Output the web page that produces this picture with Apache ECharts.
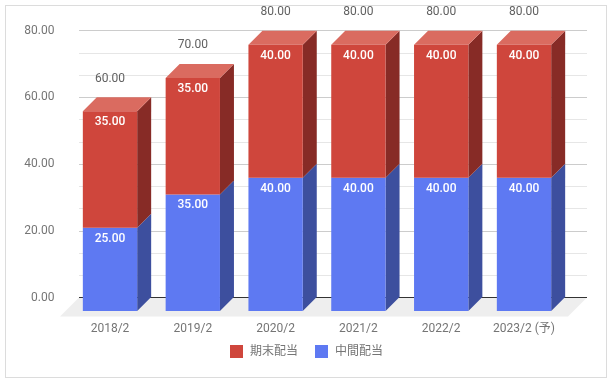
<!DOCTYPE html>
<html><head><meta charset="utf-8">
<style>
html,body{margin:0;padding:0;background:#fff;}
#frame{position:absolute;left:5px;top:5px;width:602px;height:373px;border:1.5px solid #dcdcdc;box-sizing:border-box;}
#c{position:absolute;left:0;top:0;width:614px;height:384px;}
</style>
<script src="https://cdn.jsdelivr.net/npm/echarts@6/dist/echarts.min.js"></script>
</head><body>
<div id="frame"></div><div id="c"></div>
<script>
const categories = ['2018/2','2019/2','2020/2','2021/2','2022/2','2023/2 (予)'];
const interim = [25,35,40,40,40,40];
const yearEnd = [35,35,40,40,40,40];
const totals = [60,70,80,80,80,80];
const yTicks = [0,20,40,60,80];

const FONT = 'Roboto, "Noto Sans CJK JP", sans-serif';
const DEPTH = 14, FLOOR_OUT = 19;
const fmt = v => Number(v).toFixed(2);
const colors = {
  blue:{front:'#5e79f2',side:'#3d4f9e',top:'#7e94f5'},
  red:{front:'#cf463c',side:'#872b26',top:'#da6b60'}
};

function box(c, showTop){
  return function(params, api){
    const i = api.value(0), base = api.value(1), val = api.value(2);
    const w = api.size([1,0])[0]*0.656;
    const cx = api.coord([i,0])[0];
    const y0 = api.coord([i,base])[1], y1 = api.coord([i,base+val])[1];
    const l = cx-w/2, r = cx+w/2;
    const kids = [
      {type:'polygon',shape:{points:[[r,y0],[r+DEPTH,y0-DEPTH],[r+DEPTH,y1-DEPTH],[r,y1]]},style:{fill:c.side}},
      {type:'rect',shape:{x:l,y:y1,width:w,height:y0-y1},style:{fill:c.front}},
      {type:'text',style:{text:fmt(val),x:cx,y:y1+11,align:'center',verticalAlign:'middle',fill:'#fff',
        font:'500 12px '+FONT}}
    ];
    if(showTop) kids.splice(1,0,{type:'polygon',shape:{points:[[l,y1],[l+DEPTH,y1-DEPTH],[r+DEPTH,y1-DEPTH],[r,y1]]},style:{fill:c.top}});
    return {type:'group',children:kids};
  };
}

const option = {
  animation:false,
  textStyle:{fontFamily:FONT},
  legend:{
    data:['期末配当','中間配当'],left:225,top:340,itemWidth:13,itemHeight:13,itemGap:17,icon:'rect',
    textStyle:{color:'#757575',fontSize:12,fontFamily:FONT,padding:[0,0,0,2]},selectedMode:false
  },
  grid:[
    {left:79,right:27,top:30.5,bottom:86.5},
    {left:68.6,right:48.6,top:44.7,bottom:73}
  ],
  xAxis:[
    {gridIndex:0,type:'category',data:categories,axisLine:{show:false},axisTick:{show:false},axisLabel:{show:false}},
    {gridIndex:1,type:'category',data:categories,axisLine:{show:false},axisTick:{show:false},
     axisLabel:{color:'#757575',fontSize:12,margin:12,fontFamily:FONT,interval:0}}
  ],
  yAxis:[
    {gridIndex:0,type:'value',min:yTicks[0],max:yTicks[yTicks.length-1],interval:20,
     axisLine:{show:false},axisTick:{show:false},
     axisLabel:{color:'#757575',fontSize:12,margin:24.5,fontFamily:FONT,formatter:fmt},
     splitLine:{lineStyle:{color:'#cccccc',width:1}},
     minorTick:{show:false,splitNumber:3},
     minorSplitLine:{show:true,lineStyle:{color:'#e6e6e6',width:1}}},
    {gridIndex:1,type:'value',min:0,max:80,interval:20,axisLine:{show:false},axisTick:{show:false},
     axisLabel:{show:false},splitLine:{show:false}}
  ],
  series:[
    {type:'custom',name:'床',xAxisIndex:0,yAxisIndex:0,data:[[0,0]],z:1,silent:true,clip:false,
     renderItem:function(params,api){
       const g = params.coordSys, yb = api.coord([0,0])[1];
       const xl=g.x, xr=g.x+g.width;
       return {type:'group',children:[
         {type:'polygon',shape:{points:[[xl,yb],[xr,yb],[xr-FLOOR_OUT,yb+FLOOR_OUT],[xl-FLOOR_OUT,yb+FLOOR_OUT]]},style:{fill:'#eeeeee'}},
         {type:'line',shape:{x1:xl,y1:yb,x2:xr,y2:yb},style:{stroke:'#333333',lineWidth:1}}
       ]};
     }},
    {type:'custom',name:'中間配当',xAxisIndex:1,yAxisIndex:1,z:3,clip:false,silent:true,
     itemStyle:{color:colors.blue.front},
     data:interim.map((v,i)=>[i,0,v]),renderItem:box(colors.blue,false)},
    {type:'custom',name:'期末配当',xAxisIndex:1,yAxisIndex:1,z:4,clip:false,silent:true,
     itemStyle:{color:colors.red.front},
     data:yearEnd.map((v,i)=>[i,interim[i],v]),renderItem:box(colors.red,true)},
    {type:'custom',name:'合計',xAxisIndex:1,yAxisIndex:1,z:5,clip:false,silent:true,
     data:totals.map((v,i)=>[i,v]),
     renderItem:function(params,api){
       const p = api.coord([api.value(0),api.value(1)]);
       return {type:'text',style:{text:fmt(api.value(1)),x:p[0],y:p[1]-32.5,align:'center',verticalAlign:'middle',
         fill:'#616161',font:'12px '+FONT}};
     }}
  ]
};
echarts.init(document.getElementById('c'),null,{renderer:'canvas'}).setOption(option);
</script>
</body></html>
